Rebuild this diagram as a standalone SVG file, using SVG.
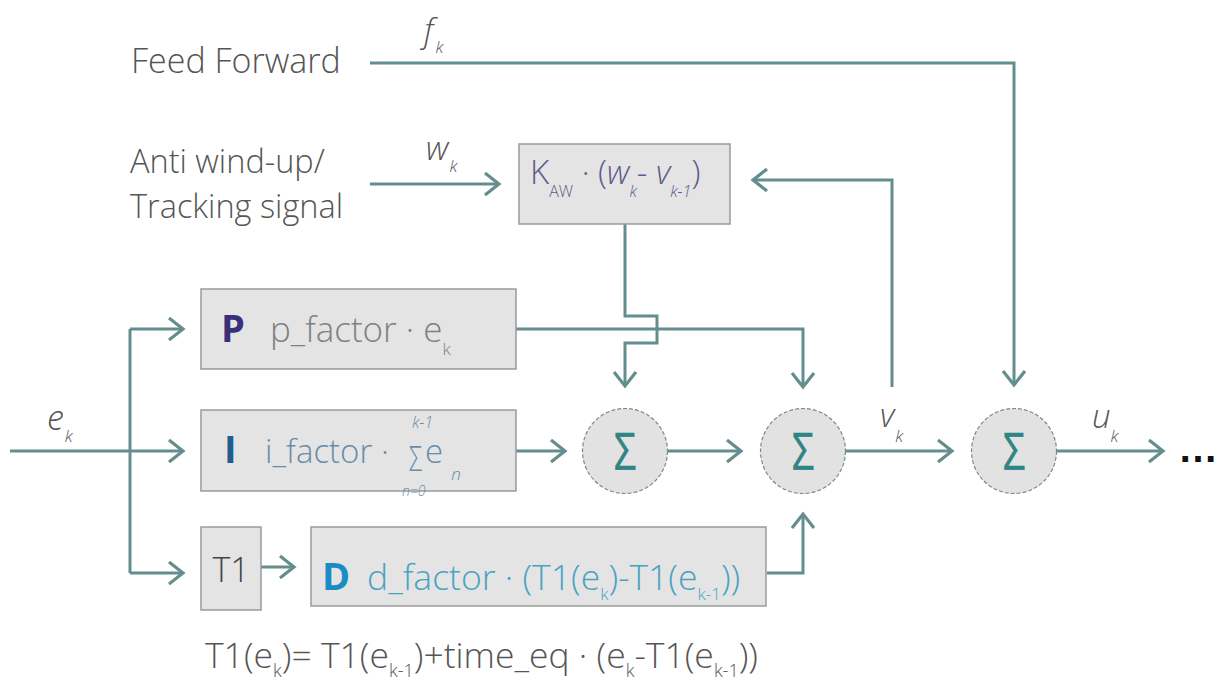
<svg xmlns="http://www.w3.org/2000/svg" width="1218" height="682" viewBox="0 0 1218 682">
<style>
.t{font-family:"Open Sans","Liberation Sans",sans-serif;font-weight:300;}
.lbl{font-family:"Open Sans","Liberation Sans",sans-serif;font-weight:300;fill:#555;}
.it{font-style:italic;}
.b{font-family:"Open Sans","Liberation Sans",sans-serif;font-weight:bold;font-size:38px;}
.box{fill:#e4e4e4;stroke:#9a9a9a;stroke-width:1.5;}
.sum{fill:#e2e2e2;stroke:#7a8a8a;stroke-width:1.2;stroke-dasharray:4 2;}
.sig{font-family:"Open Sans","Liberation Sans",sans-serif;font-size:52px;fill:#2f8585;stroke:#2f8585;stroke-width:0.6;text-anchor:middle;}
.ln{fill:none;stroke:#648e8e;stroke-width:3;}
.ar{marker-end:url(#ah);}
</style>
<defs>
<marker id="ah" markerUnits="userSpaceOnUse" markerWidth="20" markerHeight="30" refX="16" refY="13" orient="auto" viewBox="0 0 20 30">
<path d="M2,2 L16,13 L2,24" fill="none" stroke="#648e8e" stroke-width="3.2"/>
</marker>
</defs>

<g id="connectors">
<path class="ln ar" d="M370,63 H1014 V385"/>
<path class="ln ar" d="M370,184 H499"/>
<path class="ln ar" d="M892,387 V180 H753"/>
<path class="ln ar" d="M625,224 V316 H657 V343 H625 V386"/>
<path class="ln ar" d="M516,329 H803 V387"/>
<path class="ln ar" d="M10,451 H183"/>
<path class="ln" d="M130,329 V573"/>
<path class="ln ar" d="M130,329 H183"/>
<path class="ln ar" d="M130,573 H183"/>
<path class="ln ar" d="M516,451 H565"/>
<path class="ln ar" d="M668,451 H741"/>
<path class="ln ar" d="M846,451 H952"/>
<path class="ln ar" d="M1057,451 H1163"/>
<path class="ln ar" d="M261,567 H294"/>
<path class="ln ar" d="M767,573 H803 V514"/>
</g>

<g id="labels">
<text class="lbl" x="131" y="73" font-size="34">Feed Forward</text>
<text class="lbl" x="130" y="173" font-size="32.5">Anti wind-up/</text>
<text class="lbl" x="130" y="218" font-size="32.5">Tracking signal</text>
<text class="lbl it" x="424" y="42" font-size="33">f<tspan font-size="17" dx="2" dy="11">k</tspan></text>
<text class="lbl it" x="426" y="160" font-size="33">w<tspan font-size="17" dx="1" dy="12">k</tspan></text>
<text class="lbl it" x="47" y="430" font-size="34">e<tspan font-size="17" dx="1" dy="12">k</tspan></text>
<text class="lbl it" x="880" y="427" font-size="33">v<tspan font-size="17" dx="1" dy="15">k</tspan></text>
<text class="lbl it" x="1092" y="428" font-size="33">u<tspan font-size="17" dx="0" dy="14">k</tspan></text>
<text x="1178" y="462" font-family="Liberation Sans, sans-serif" font-size="40" font-weight="bold" fill="#111">…</text>
<text class="lbl" x="205" y="668" font-size="35.5">T1(e<tspan font-size="18" dy="9">k</tspan><tspan dy="-9">)= T1(e</tspan><tspan font-size="18" dy="9">k-1</tspan><tspan dy="-9">)+time_eq · (e</tspan><tspan font-size="18" dy="9">k</tspan><tspan dy="-9">-T1(e</tspan><tspan font-size="18" dy="9">k-1</tspan><tspan dy="-9">))</tspan></text>
</g>

<g id="node-kaw">
<rect class="box" x="519" y="144" width="211" height="80"/>
<text class="t" x="530" y="184" font-size="33" fill="#5c5c8a">K<tspan font-size="16" dy="13">AW</tspan><tspan dy="-13"> · (</tspan><tspan class="it">w</tspan><tspan class="it" font-size="16" dy="13">k</tspan><tspan dy="-13">- </tspan><tspan class="it">v</tspan><tspan class="it" font-size="16" dy="13">k-1</tspan><tspan dy="-13">)</tspan></text>
</g>

<g id="node-p">
<rect class="box" x="201" y="289" width="315" height="80"/>
<text class="b" x="221" y="342" font-size="40" fill="#3a2f7a">P</text>
<text class="t" x="270" y="342" font-size="35" fill="#808080">p_factor · e<tspan font-size="17" dy="13">k</tspan></text>
</g>

<g id="node-i">
<rect class="box" x="201" y="410" width="315" height="81"/>
<text class="b" x="224" y="463" fill="#1e5f8f">I</text>
<text class="t" x="265" y="463" font-size="33" fill="#6a8ca6">i_factor ·</text>
<text class="t" transform="translate(409,471) scale(0.7,1)" font-size="34" fill="#6a8ca6">Σ</text>
<text class="t it" x="412" y="428" font-size="16" fill="#6a8ca6">k-1</text>
<text class="t it" x="402" y="496" font-size="14" fill="#6a8ca6">n=0</text>
<text class="t" x="425" y="463" font-size="33" fill="#6a8ca6">e<tspan class="it" font-size="17" dx="8" dy="17">n</tspan></text>
</g>

<g id="node-t1">
<rect class="box" x="201" y="527" width="60" height="83"/>
<text class="t" x="231" y="582" font-size="34" fill="#444" text-anchor="middle">T1</text>
</g>

<g id="node-d">
<rect class="box" x="311" y="527" width="455" height="79"/>
<text class="b" x="322" y="590" fill="#1a8cc4">D</text>
<text class="t" x="367" y="590" font-size="35.5" fill="#4aa2c2">d_factor · (T1(e<tspan font-size="17" dy="10">k</tspan><tspan dy="-10">)-T1(e</tspan><tspan font-size="17" dy="10">k-1</tspan><tspan dy="-10">))</tspan></text>
</g>

<g id="node-sum1">
<circle class="sum" cx="625" cy="451" r="42.5"/>
<text class="sig" transform="translate(625,470) scale(0.75,1)">Σ</text>
</g>
<g id="node-sum2">
<circle class="sum" cx="803" cy="451" r="42.5"/>
<text class="sig" transform="translate(803,470) scale(0.75,1)">Σ</text>
</g>
<g id="node-sum3">
<circle class="sum" cx="1014" cy="451" r="42.5"/>
<text class="sig" transform="translate(1014,470) scale(0.75,1)">Σ</text>
</g>
</svg>
